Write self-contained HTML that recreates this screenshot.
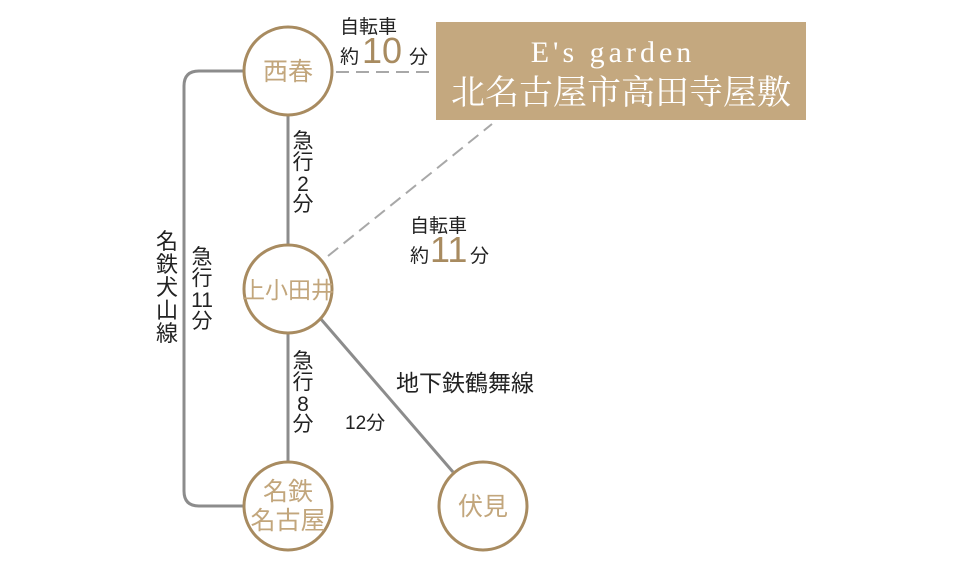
<!DOCTYPE html>
<html><head><meta charset="utf-8"><style>
html,body{margin:0;padding:0;background:#fff;}
svg{display:block;}
text{font-family:"Liberation Sans","Noto Sans CJK JP",sans-serif;}
</style></head><body>
<svg width="954" height="565" viewBox="0 0 954 565" xmlns="http://www.w3.org/2000/svg">
<g stroke="#8c8c8c" stroke-width="3" fill="none">
<path d="M244 71 H199 Q184 71 184 86 V491 Q184 506 199 506 H244"/>
<line x1="288" y1="115" x2="288" y2="245"/>
<line x1="288" y1="333" x2="288" y2="462"/>
<line x1="320" y1="318" x2="453" y2="472"/>
</g>
<g stroke="#a8a8a8" stroke-width="2" fill="none" stroke-dasharray="13,7">
<line x1="336" y1="72" x2="436" y2="72"/>
<line x1="328" y1="256" x2="492" y2="124"/>
</g>
<rect x="436" y="22" width="370" height="98" fill="#c4a87f"/>
<text x="613" y="62" text-anchor="middle" fill="#fff" font-size="30" style="font-family:'Liberation Serif','Noto Serif CJK SC',serif" letter-spacing="4">E's garden</text>
<text x="621" y="104" text-anchor="middle" fill="#fff" font-size="34" style="font-family:'Liberation Serif','Noto Serif CJK SC',serif">北名古屋市高田寺屋敷</text>
<g fill="#fff" stroke="#a88b60" stroke-width="3">
<circle cx="288" cy="71" r="44"/>
<circle cx="288" cy="289" r="44"/>
<circle cx="288" cy="506" r="44"/>
<circle cx="483" cy="506" r="44"/>
</g>
<g fill="#c2a67c" font-size="25" text-anchor="middle">
<text x="288" y="80">西春</text>
<text x="288" y="298" font-size="23">上小田井</text>
<text x="288" y="500">名鉄</text>
<text x="288" y="529">名古屋</text>
<text x="483" y="515">伏見</text>
</g>
<g fill="#222" font-size="19">
<text x="340" y="33">自転車</text>
<text x="340" y="63">約</text>
<text x="409" y="63">分</text>
<text x="410" y="232">自転車</text>
<text x="410" y="262">約</text>
<text x="470" y="262">分</text>
<text x="396" y="391" font-size="23">地下鉄鶴舞線</text>
<text x="345" y="429">12分</text>
</g>
<g fill="#a88b60" font-size="36">
<text x="362" y="63">10</text>
<text x="430" y="262">11</text>
</g>
<g fill="#222" font-size="21" text-anchor="middle">
<text x="303" y="148">急</text><text x="303" y="169">行</text><text x="303" y="191">2</text><text x="303" y="211">分</text>
<text x="303" y="368">急</text><text x="303" y="389">行</text><text x="303" y="411">8</text><text x="303" y="431">分</text>
<text x="202" y="264">急</text><text x="202" y="285">行</text><text x="202" y="307">11</text><text x="202" y="328">分</text>
</g>
<g fill="#222" font-size="22" text-anchor="middle">
<text x="167" y="249">名</text><text x="167" y="272">鉄</text><text x="167" y="295">犬</text><text x="167" y="318">山</text><text x="167" y="341">線</text>
</g>
</svg>
</body></html>
